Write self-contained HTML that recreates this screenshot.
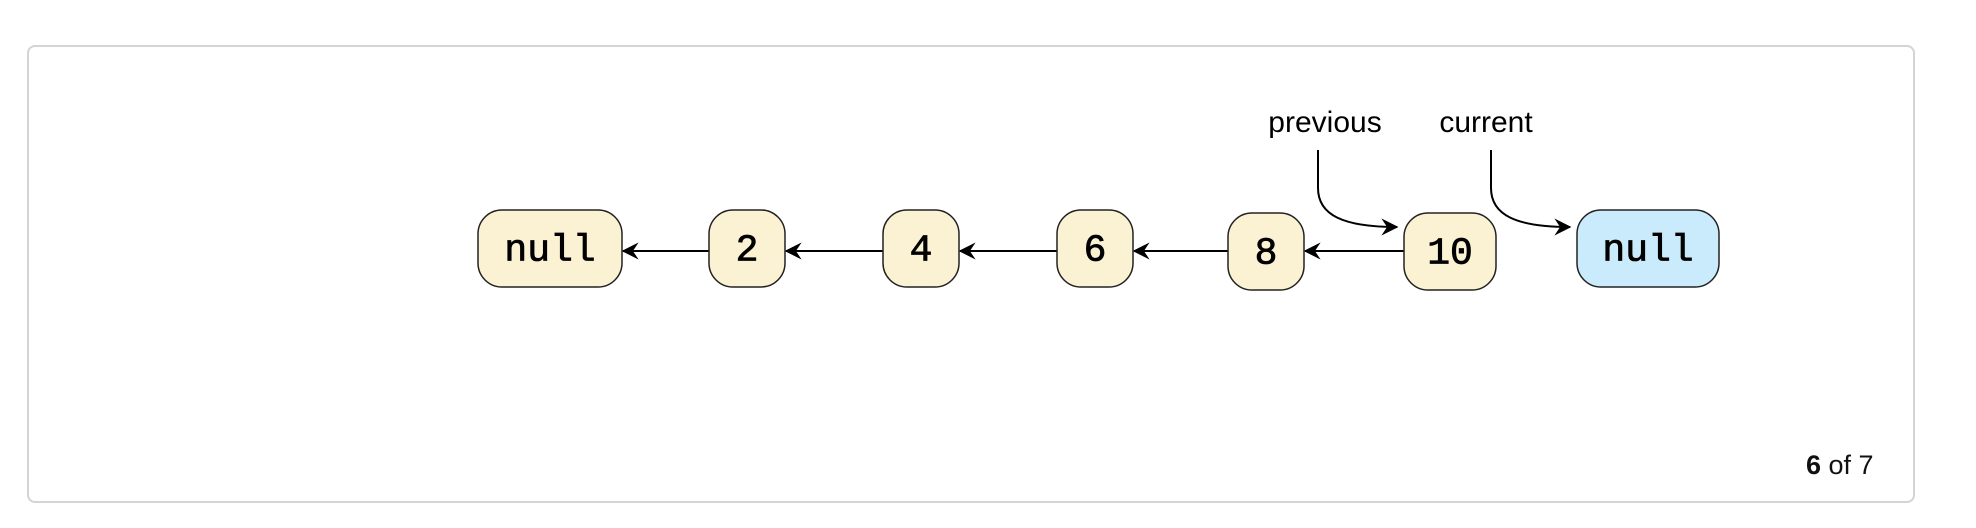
<!DOCTYPE html>
<html><head><meta charset="utf-8"><style>
html,body{margin:0;padding:0;background:#fff;}
body{width:1976px;height:528px;overflow:hidden;position:relative;font-family:"Liberation Sans",sans-serif;}
#card{position:absolute;left:27px;top:45px;width:1884px;height:454px;border:2px solid #d3d3d8;border-radius:8px;box-sizing:content-box;}
#counter{position:absolute;left:1806px;top:450px;font-size:27px;color:#111;}
svg{position:absolute;left:0;top:0;}
</style></head><body>
<div id="card"></div>
<svg id="diagram" width="1976" height="528">
<defs><marker id="ah" viewBox="0 0 12 12" refX="11" refY="6" markerWidth="17" markerHeight="17" markerUnits="userSpaceOnUse" orient="auto"><path d="M0,0 L12,6 L0,12 L4,6 Z" fill="#000"/></marker></defs>
</svg>
<div id="counter"><b>6</b> of 7</div>
<script>
const nodeLabels = ["null","2","4","6","8","10","null"];
const nodeLefts = [478,709,883,1057,1228,1404,1577];
const nodeWidths = [144,76,76,76,76,92,142];
const nodeTops = [210,210,210,210,213,213,210];
const nodeHighlight = [false,false,false,false,false,false,true];
const pointerLabels = ["previous","current"];
const pointerTargets = [5,6];
const pointerLabelShift = [7,-5];

const svg = document.getElementById('diagram');
const NS = 'http://www.w3.org/2000/svg';
const H = 77, lineY = 251;
function mk(t, a){const e=document.createElementNS(NS,t);for(const k in a)e.setAttribute(k,a[k]);svg.appendChild(e);return e;}
for(let i=1;i<nodeLabels.length-1;i++){
  const l = mk('line',{x1:nodeLefts[i],y1:lineY,x2:nodeLefts[i-1]+nodeWidths[i-1]+1,y2:lineY,stroke:'#000','stroke-width':2,'marker-end':'url(#ah)'});
  
  
}
nodeLabels.forEach((lab,i)=>{
  const r = mk('rect',{x:nodeLefts[i],y:nodeTops[i],width:nodeWidths[i],height:H,rx:24,ry:24,fill:nodeHighlight[i]?'#c9ebfb':'#fbf1d3',stroke:'#222','stroke-width':1.5});
  
  
  const t = mk('text',{x:nodeLefts[i]+nodeWidths[i]/2,y:nodeTops[i]+H/2+12,'text-anchor':'middle','font-family':'"Liberation Mono",monospace','font-size':38,fill:'#000',stroke:'#000','stroke-width':0.8});
  t.textContent = lab;
  
  
});
pointerLabels.forEach((lab,j)=>{
  const ti = pointerTargets[j];
  const tipX = nodeLefts[ti]-7;
  const sx = tipX - 79;
  const t = mk('text',{x:sx+pointerLabelShift[j],y:132,'text-anchor':'middle','font-size':30,fill:'#000'});
  t.textContent = lab;
  
  
  const p = mk('path',{d:`M${sx},150 L${sx},188 C${sx},215 ${sx+25},227 ${tipX},227`,fill:'none',stroke:'#000','stroke-width':2,'marker-end':'url(#ah)'});
  
  
});
</script>
</body></html>
